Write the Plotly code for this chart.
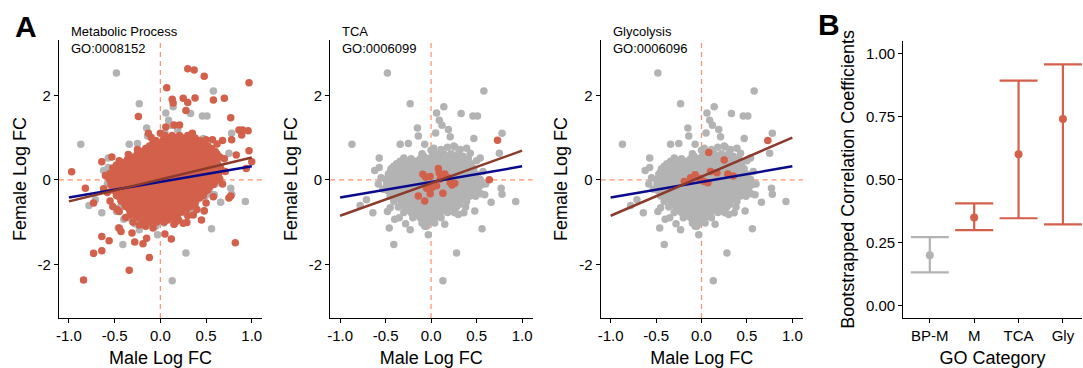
import plotly.graph_objects as go

# ---------------- data ----------------
# background genes (grey) – dense core written as rows: (y, [x values])
grey_core_rows = [
    (0.62, [0.05, 0.14, 0.22, 0.30]),
    (0.56, [-0.08, 0.01, 0.10, 0.19, 0.27, 0.35]),
    (0.50, [-0.22, -0.12, -0.03, 0.07, 0.16, 0.25, 0.34, 0.41]),
    (0.44, [-0.34, -0.26, -0.17, -0.09, 0.00, 0.08, 0.16, 0.24, 0.32, 0.40]),
    (0.38, [-0.38, -0.30, -0.21, -0.13, -0.05, 0.04, 0.12, 0.20, 0.28, 0.36, 0.44]),
    (0.32, [-0.41, -0.33, -0.24, -0.15, -0.07, 0.02, 0.10, 0.19, 0.27, 0.35, 0.43]),
    (0.26, [-0.44, -0.36, -0.28, -0.19, -0.11, -0.02, 0.06, 0.14, 0.23, 0.31, 0.39, 0.47]),
    (0.19, [-0.45, -0.36, -0.28, -0.20, -0.12, -0.03, 0.05, 0.13, 0.21, 0.30, 0.38, 0.46]),
    (0.13, [-0.47, -0.40, -0.32, -0.24, -0.16, -0.08, 0.01, 0.09, 0.17, 0.26, 0.34, 0.42, 0.50]),
    (0.07, [-0.46, -0.38, -0.30, -0.22, -0.14, -0.06, 0.03, 0.11, 0.19, 0.27, 0.35, 0.43, 0.51]),
    (0.01, [-0.50, -0.42, -0.34, -0.26, -0.18, -0.10, -0.02, 0.07, 0.15, 0.23, 0.31, 0.39, 0.47, 0.54]),
    (-0.06, [-0.46, -0.37, -0.29, -0.21, -0.13, -0.05, 0.04, 0.12, 0.20, 0.28, 0.36, 0.44, 0.51]),
    (-0.12, [-0.49, -0.41, -0.33, -0.25, -0.17, -0.09, -0.01, 0.08, 0.16, 0.24, 0.32, 0.40, 0.48, 0.55]),
    (-0.19, [-0.45, -0.36, -0.28, -0.20, -0.12, -0.03, 0.05, 0.13, 0.21, 0.29, 0.37, 0.45, 0.52]),
    (-0.25, [-0.48, -0.40, -0.32, -0.24, -0.16, -0.07, 0.01, 0.09, 0.17, 0.25, 0.33, 0.41, 0.49]),
    (-0.32, [-0.41, -0.33, -0.25, -0.17, -0.09, -0.01, 0.07, 0.15, 0.23, 0.31, 0.39, 0.46]),
    (-0.38, [-0.45, -0.37, -0.29, -0.21, -0.13, -0.05, 0.03, 0.11, 0.19, 0.27, 0.35, 0.43]),
    (-0.45, [-0.37, -0.29, -0.21, -0.13, -0.05, 0.03, 0.11, 0.19, 0.27, 0.35]),
    (-0.51, [-0.41, -0.33, -0.25, -0.17, -0.09, -0.01, 0.07, 0.15, 0.23, 0.31, 0.39]),
    (-0.58, [-0.32, -0.24, -0.16, -0.08, 0.00, 0.08, 0.16, 0.24, 0.31]),
    (-0.64, [-0.36, -0.28, -0.20, -0.12, -0.04, 0.04, 0.12, 0.20, 0.28]),
    (-0.71, [-0.26, -0.18, -0.10, -0.02, 0.06, 0.14, 0.21]),
    (-0.77, [-0.30, -0.22, -0.14, -0.06, 0.02, 0.10, 0.18]),
    (-0.84, [-0.16, -0.08, 0.00, 0.08]),
    (-0.90, [-0.20, -0.12, -0.04, 0.04, 0.11]),
    (-0.96, [-0.07, 0.01]),
    (-1.02, [-0.10, -0.03, 0.04]),
    (-1.10, [-0.05]),
]
grey_out_x = [-0.48, 0.58, -0.23, 0.14, 0.06, 0.33, 0.46, 0.51, 0.09, 0.12, -0.15, 0.19,
              0.05, -0.14, 0.21, 0.47, 0.78, -0.87, -0.34, -0.07, -0.25, 0.03, 0.18, 0.26,
              0.39, 0.43, 0.54, 0.75, -0.57, -0.57, -0.62, -0.64, -0.71, -0.78, -0.48, -0.46,
              -0.41, -0.40, -0.28, -0.23, -0.03, -0.07, 0.28, 0.13, 0.56, 0.66, 0.78, 0.93,
              0.53, 0.49, 0.48, 0.37, 0.38, 0.26, 0.20, 0.36, 0.59, 0.77,
              -0.55, -0.53, -0.30, -0.10, 0.00, 0.11, 0.25, 0.32, 0.50, 0.57, 0.60, 0.55,
              -0.35, 0.15, 0.30, -0.45, -0.58]
grey_out_y = [2.53, 2.10, 1.80, 1.73, 1.58, 1.57, 1.51, 1.51, 1.41, 1.29, 1.23, 1.19,
              1.11, 1.04, 1.02, 0.98, 1.10, 0.84, 0.84, 0.84, 0.86, 0.75, 0.77, 0.78,
              0.75, 0.63, 0.52, 0.63, 0.52, 0.29, 0.22, -0.78, -0.47, -0.61, -0.75, -1.14,
              -1.53, -0.93, -1.04, -1.18, -1.30, -1.10, -1.73, -2.39, -1.16, -0.53, -0.34, -0.51,
              0.00, -0.39, -0.74, -0.45, -0.64, -0.78, -0.75, -0.78, -0.35, -0.20,
              0.05, -0.22, 0.52, 0.62, 0.70, 0.72, 0.80, 0.72, 0.45, 0.20, -0.10, -0.33,
              -0.90, -1.05, -0.82, -0.66, -0.10]

# metabolic-process genes (red, panel 1)
met_core_rows = [
    (1.05, [0.05, 0.13, 0.21, 0.30]),
    (0.99, [0.09, 0.17, 0.25, 0.38]),
    (0.93, [-0.05, 0.03, 0.11, 0.19, 0.27, 0.35, 0.43]),
    (0.87, [-0.08, 0.00, 0.07, 0.15, 0.23, 0.31, 0.39, 0.47]),
    (0.80, [-0.12, -0.04, 0.04, 0.12, 0.20, 0.28, 0.36, 0.44, 0.52]),
    (0.74, [-0.16, -0.08, 0.00, 0.08, 0.16, 0.24, 0.32, 0.40, 0.48, 0.56]),
    (0.67, [-0.20, -0.12, -0.03, 0.05, 0.13, 0.21, 0.29, 0.37, 0.45, 0.53, 0.60]),
    (0.61, [-0.25, -0.17, -0.09, -0.01, 0.07, 0.15, 0.23, 0.31, 0.39, 0.47, 0.55, 0.62]),
    (0.54, [-0.29, -0.21, -0.13, -0.05, 0.03, 0.11, 0.19, 0.27, 0.35, 0.43, 0.51, 0.59, 0.65]),
    (0.48, [-0.36, -0.27, -0.19, -0.11, -0.03, 0.05, 0.13, 0.21, 0.29, 0.37, 0.45, 0.53, 0.60]),
    (0.41, [-0.42, -0.34, -0.26, -0.18, -0.10, -0.02, 0.06, 0.14, 0.22, 0.30, 0.38, 0.46, 0.54, 0.62]),
    (0.35, [-0.48, -0.40, -0.32, -0.24, -0.16, -0.08, 0.00, 0.08, 0.16, 0.24, 0.32, 0.40, 0.48, 0.56, 0.63]),
    (0.28, [-0.52, -0.45, -0.37, -0.29, -0.21, -0.13, -0.05, 0.03, 0.11, 0.19, 0.27, 0.35, 0.43, 0.51, 0.59, 0.66]),
    (0.22, [-0.51, -0.43, -0.35, -0.27, -0.19, -0.11, -0.03, 0.05, 0.13, 0.21, 0.29, 0.37, 0.45, 0.53, 0.61]),
    (0.15, [-0.55, -0.47, -0.39, -0.31, -0.23, -0.15, -0.07, 0.01, 0.09, 0.17, 0.25, 0.33, 0.41, 0.49, 0.57, 0.64]),
    (0.09, [-0.52, -0.44, -0.36, -0.28, -0.20, -0.12, -0.04, 0.04, 0.12, 0.20, 0.28, 0.36, 0.44, 0.52, 0.60]),
    (0.02, [-0.56, -0.48, -0.40, -0.32, -0.24, -0.16, -0.08, 0.00, 0.08, 0.16, 0.24, 0.32, 0.40, 0.48, 0.56, 0.63]),
    (-0.04, [-0.52, -0.44, -0.36, -0.28, -0.20, -0.12, -0.04, 0.04, 0.12, 0.20, 0.28, 0.36, 0.44, 0.52, 0.60]),
    (-0.11, [-0.54, -0.46, -0.38, -0.30, -0.22, -0.14, -0.06, 0.02, 0.10, 0.18, 0.26, 0.34, 0.42, 0.50, 0.58]),
    (-0.17, [-0.50, -0.42, -0.34, -0.26, -0.18, -0.10, -0.02, 0.06, 0.14, 0.22, 0.30, 0.38, 0.46, 0.54]),
    (-0.24, [-0.52, -0.44, -0.36, -0.28, -0.20, -0.12, -0.04, 0.04, 0.12, 0.20, 0.28, 0.36, 0.44, 0.52]),
    (-0.30, [-0.48, -0.40, -0.32, -0.24, -0.16, -0.08, 0.00, 0.08, 0.16, 0.24, 0.32, 0.40, 0.48]),
    (-0.37, [-0.48, -0.40, -0.32, -0.24, -0.16, -0.08, 0.00, 0.08, 0.16, 0.24, 0.32, 0.40, 0.47]),
    (-0.43, [-0.44, -0.36, -0.28, -0.20, -0.12, -0.04, 0.04, 0.12, 0.20, 0.28, 0.36, 0.43]),
    (-0.50, [-0.43, -0.35, -0.27, -0.19, -0.11, -0.03, 0.05, 0.13, 0.21, 0.29, 0.37]),
    (-0.56, [-0.39, -0.31, -0.23, -0.15, -0.07, 0.01, 0.09, 0.17, 0.25, 0.32]),
    (-0.63, [-0.38, -0.30, -0.22, -0.14, -0.06, 0.02, 0.10, 0.18, 0.26, 0.33]),
    (-0.69, [-0.34, -0.26, -0.18, -0.10, -0.02, 0.06, 0.14, 0.22, 0.29]),
    (-0.76, [-0.33, -0.25, -0.17, -0.09, -0.01, 0.07, 0.15, 0.23]),
    (-0.82, [-0.28, -0.20, -0.12, -0.04, 0.04, 0.12, 0.19]),
    (-0.89, [-0.26, -0.18, -0.10, -0.02, 0.06, 0.14]),
    (-0.95, [-0.16, -0.08, 0.00, 0.08]),
    (-1.00, [-0.20, -0.12, -0.04, 0.04]),
]
met_out_x = [0.30, 0.37, 0.48, 0.97, 0.07, 0.13, 0.14, 0.25, 0.30, 0.38, 0.58, 0.70,
             0.28, -0.24, 0.77, 0.21, 0.86, 0.90, 0.96, 0.89, 0.57, 0.68, 0.78, 0.97,
             -0.97, -0.64, -0.53, -0.13, 0.41, 0.06, 0.15, 1.00, 0.94, 0.83,
             -0.82, -0.73, -0.62, -0.52, -0.47, -0.64, -0.56, -0.73, -0.64, -0.84, -0.34,
             -0.12, -0.28, -0.19, -0.15, 0.05, 0.12, 0.15, 0.29, 0.45, 0.36, 0.48, 0.38,
             0.82, 0.75, 0.77, 0.46, 0.65, -0.45, -0.43, -0.31, -0.38, -0.33, -0.23, -0.16,
             -0.08, 0.17, 0.25,
             -0.60, -0.58, -0.45, -0.35, -0.25, -0.10, 0.00, 0.35, 0.50, 0.62, 0.70, 0.71,
             0.68, 0.58, 0.50, 0.40, 0.30, 0.20, -0.30, -0.45, -0.55]
met_out_y = [2.63, 2.60, 2.45, 2.30, 2.18, 1.91, 1.82, 1.93, 1.83, 1.94, 1.89, 1.93,
             1.64, 1.50, 1.47, 1.30, 1.18, 1.18, 1.16, 1.06, 0.95, 0.93, 0.95, 0.69,
             0.19, 0.43, 0.54, 1.10, 0.78, 1.25, 1.30, 0.43, 0.27, 0.59,
             -0.20, -0.55, -0.21, -0.63, -0.71, -1.34, -1.44, -1.74, -1.68, -2.37, -2.14,
             -1.84, -1.47, -1.51, -1.38, -1.28, -1.40, -1.05, -1.01, -0.95, -0.83, -0.73, -0.55,
             -1.49, -0.43, -0.38, -0.24, 0.02, -1.14, -1.22, -1.26, -0.89, -0.83, -1.07, -1.10,
             -1.14, -0.99, -1.03,
             0.10, -0.30, 0.45, 0.60, 0.72, 1.00, 1.10, 1.10, 0.95, 0.85, 0.50, 0.20,
             -0.10, -0.40, -0.55, -0.70, -0.85, -0.95, -1.00, -0.75, -0.50]

# TCA genes (red, panel 2)
tca_x = [0.73, 0.64, -0.09, -0.06, -0.01, 0.08, 0.09, 0.10, 0.15, 0.18, 0.06, -0.01,
         -0.14, -0.07, 0.13, 0.21, 0.23, 0.26, 0.01, -0.05]
tca_y = [0.94, 0.00, 0.13, 0.06, 0.08, 0.27, 0.16, 0.02, 0.14, 0.06, -0.14, -0.33,
         -0.38, -0.50, -0.32, -0.06, -0.12, -0.08, -0.18, -0.20]

# glycolysis genes (red, panel 3)
gly_x = [0.73, 0.08, 0.25, -0.19, -0.12, -0.07, -0.02, 0.03, 0.07, 0.10, 0.17, 0.29, 0.35]
gly_y = [0.93, 0.65, 0.47, -0.04, 0.05, 0.12, 0.03, -0.04, -0.07, 0.20, 0.17, 0.14, 0.09]

# regression fits (intercept, slope)
fit_x = [-1.0, 1.0]
fit_all = (-0.05, 0.37)
fit_met = (0.01, 0.52)
fit_tca = (-0.08, 0.77)
fit_gly = (0.075, 0.925)

panel_titles = ["Metabolic Process<br>GO:0008152", "TCA<br>GO:0006099", "Glycolysis<br>GO:0006096"]

# panel B
categories = ["BP-M", "M", "TCA", "Gly"]
boot_est = [0.20, 0.35, 0.60, 0.74]
boot_lo = [0.133, 0.300, 0.347, 0.323]
boot_hi = [0.272, 0.406, 0.892, 0.956]
boot_colors = ["#B3B3B3", "#D3604A", "#D3604A", "#D3604A"]

# ---------------- styling ----------------
W, H = 1083, 368
RED = "#D3604A"
GREY = "#B3B3B3"
BLUE = "#0A0A8C"
BROWN = "#8B3A2B"
DASH = "#FF8F6B"
FONT = "Liberation Sans, Arial, sans-serif"
MSIZE = 7.5


def expand(rows):
    xs, ys = [], []
    for yv, row in rows:
        for xv in row:
            xs.append(xv)
            ys.append(yv)
    return xs, ys


gcx, gcy = expand(grey_core_rows)
grey_x = gcx + grey_out_x
grey_y = gcy + grey_out_y
mcx, mcy = expand(met_core_rows)
met_x = mcx + met_out_x
met_y = mcy + met_out_y

red_sets = [(met_x, met_y), (tca_x, tca_y), (gly_x, gly_y)]
red_fits = [fit_met, fit_tca, fit_gly]

fig = go.Figure()

x_doms_px = [(56, 260), (328, 531), (599.3, 802)]
y_dom_px = (40, 318)


def px_x(a, b):
    return [a / W, b / W]


def px_y(top, bottom):
    return [(H - bottom) / H, (H - top) / H]


axis_common = dict(showline=True, linecolor="black", linewidth=1, ticks="outside",
                   ticklen=4, tickwidth=1, tickcolor="black", showgrid=False,
                   zeroline=False, tickfont=dict(size=15, color="black", family=FONT))
title_font = dict(size=18, color="black", family=FONT)

for i in range(3):
    xa = "x" if i == 0 else f"x{i+1}"
    ya = "y" if i == 0 else f"y{i+1}"
    fig.add_trace(go.Scatter(x=grey_x, y=grey_y, mode="markers", xaxis=xa, yaxis=ya,
                             marker=dict(size=MSIZE, color=GREY), showlegend=False, hoverinfo="skip"))
    rx, ry = red_sets[i]
    fig.add_trace(go.Scatter(x=rx, y=ry, mode="markers", xaxis=xa, yaxis=ya,
                             marker=dict(size=MSIZE, color=RED), showlegend=False, hoverinfo="skip"))
    fig.add_trace(go.Scatter(x=fit_x, y=[fit_all[0] + fit_all[1] * v for v in fit_x],
                             mode="lines", xaxis=xa, yaxis=ya, line=dict(color=BLUE, width=2.5),
                             showlegend=False, hoverinfo="skip"))
    b0, b1 = red_fits[i]
    fig.add_trace(go.Scatter(x=fit_x, y=[b0 + b1 * v for v in fit_x],
                             mode="lines", xaxis=xa, yaxis=ya, line=dict(color=BROWN, width=2.5),
                             showlegend=False, hoverinfo="skip"))
    suffix = "" if i == 0 else str(i + 1)
    fig.update_layout(**{
        f"xaxis{suffix}": dict(axis_common, domain=px_x(*x_doms_px[i]), range=[-1.11, 1.115],
                               tickvals=[-1, -0.5, 0, 0.5, 1], ticktext=["-1.0", "-0.5", "0.0", "0.5", "1.0"],
                               anchor=ya,
                               title=dict(text="Male Log FC", standoff=8, font=title_font)),
        f"yaxis{suffix}": dict(axis_common, domain=px_y(*y_dom_px), range=[-3.27, 3.31],
                               tickvals=[-2, 0, 2], ticktext=["-2", "0", "2"], anchor=xa,
                               title=dict(text="Female Log FC", standoff=6, font=title_font)),
    })
    fig.add_shape(type="line", xref=xa, yref=f"{ya} domain", x0=0, x1=0, y0=0, y1=1,
                  line=dict(color=DASH, width=1.2, dash="5px,4px"), layer="below")
    fig.add_shape(type="line", xref=f"{xa} domain", yref=ya, x0=0, x1=1, y0=0, y1=0,
                  line=dict(color=DASH, width=1.2, dash="5px,4px"), layer="below")
    fig.add_annotation(text=panel_titles[i], xref="paper", yref="paper",
                       x=(x_doms_px[i][0] + 10) / W, y=1 - 22 / H, xanchor="left", yanchor="top",
                       align="left", showarrow=False,
                       font=dict(size=13, color="black", family=FONT))

# panel B
for c, e, lo, hi, col in zip(categories, boot_est, boot_lo, boot_hi, boot_colors):
    fig.add_trace(go.Scatter(
        x=[c], y=[e], mode="markers", xaxis="x4", yaxis="y4",
        marker=dict(size=8, color=col),
        error_y=dict(type="data", symmetric=False, array=[hi - e], arrayminus=[e - lo],
                     color=col, thickness=2.2, width=19),
        showlegend=False, hoverinfo="skip"))

fig.update_layout(
    xaxis4=dict(axis_common, domain=px_x(902.7, 1082), type="category", range=[-0.6, 3.43],
                anchor="y4",
                title=dict(text="GO Category", standoff=8, font=title_font)),
    yaxis4=dict(axis_common, domain=px_y(40.7, 318), range=[-0.048, 1.05],
                tickvals=[0, 0.25, 0.5, 0.75, 1.0], ticktext=["0.00", "0.25", "0.50", "0.75", "1.00"],
                anchor="x4",
                title=dict(text="Bootstrapped Correlation Coefficients", standoff=6, font=title_font)),
)

fig.add_annotation(text="<b>A</b>", xref="paper", yref="paper", x=10 / W, y=1 - 8 / H,
                   xanchor="left", yanchor="top", showarrow=False,
                   font=dict(size=30, color="black", family=FONT))
fig.add_annotation(text="<b>B</b>", xref="paper", yref="paper", x=815 / W, y=1 - 6 / H,
                   xanchor="left", yanchor="top", showarrow=False,
                   font=dict(size=30, color="black", family=FONT))

fig.update_layout(width=W, height=H, margin=dict(l=0, r=0, t=0, b=0),
                  paper_bgcolor="white", plot_bgcolor="white",
                  font=dict(family=FONT, color="black"))

fig.write_html("out.html")
